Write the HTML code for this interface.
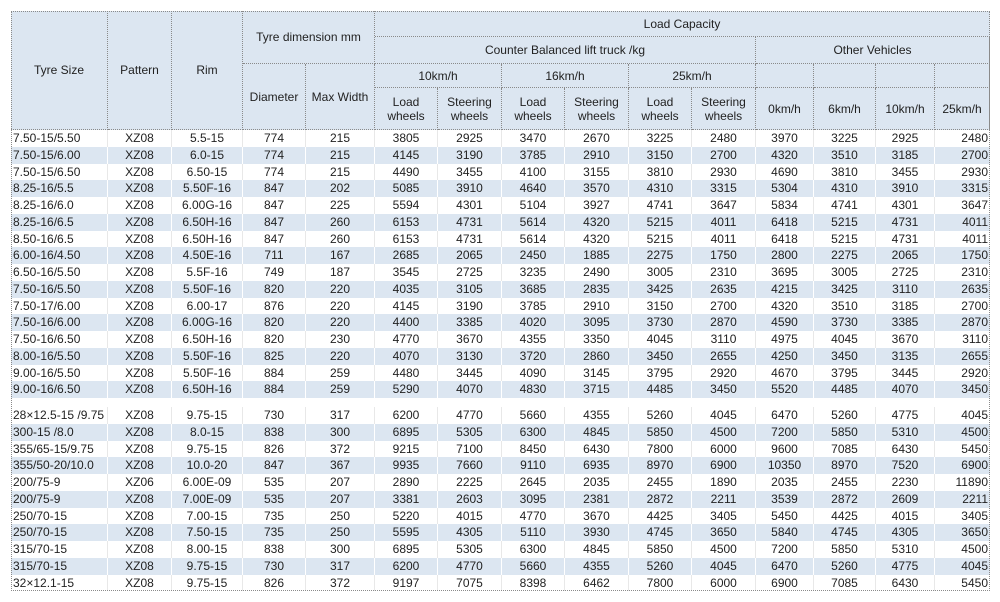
<!DOCTYPE html>
<html><head><meta charset="utf-8"><style>
body{margin:0;background:#fff;width:1000px;height:602px;overflow:hidden;font-family:"Liberation Sans",Arial,sans-serif;font-size:12px;color:#222;position:relative;}
.h{position:absolute;background:#dce6f1;border-right:1px dotted #8a8a8a;border-bottom:1px dotted #8a8a8a;box-sizing:border-box;display:flex;align-items:center;justify-content:center;text-align:center;line-height:14px;}
.frame{position:absolute;left:11px;top:11px;width:979px;height:580px;border:1px dotted #8a8a8a;box-sizing:border-box;pointer-events:none;}
.r{position:absolute;left:11px;width:979px;display:flex;height:16.75px;line-height:16.75px;}
.r.b{background:#dce6f1;}
.r span{display:block;text-align:center;border-right:1px solid #fff;box-sizing:border-box;overflow:hidden;white-space:nowrap;}
.r.w span{border-right-color:#e8e8e8;}
.r span:nth-child(1){width:97px;text-align:left;padding-left:2px}
.r span:nth-child(2){width:64px}.r span:nth-child(3){width:71px}.r span:nth-child(4){width:63px}
.r span:nth-child(5){width:69px}.r span:nth-child(6){width:63px}.r span:nth-child(7){width:64px}
.r span:nth-child(8){width:63px}.r span:nth-child(9){width:64px}.r span:nth-child(10){width:63px}
.r span:nth-child(11){width:64px}.r span:nth-child(12){width:58px}.r span:nth-child(13){width:62px}
.r span:nth-child(14){width:59px}.r span:nth-child(15){width:55px;text-align:right;padding-right:2px;border-right:none}
</style></head><body>
<div class="h" style="left:11px;top:11px;width:97px;height:119px">Tyre Size</div>
<div class="h" style="left:108px;top:11px;width:64px;height:119px">Pattern</div>
<div class="h" style="left:172px;top:11px;width:71px;height:119px">Rim</div>
<div class="h" style="left:243px;top:11px;width:132px;height:53px">Tyre dimension mm</div>
<div class="h" style="left:375px;top:11px;width:615px;height:26px">Load Capacity</div>
<div class="h" style="left:375px;top:37px;width:381px;height:27px">Counter Balanced lift truck /kg</div>
<div class="h" style="left:756px;top:37px;width:234px;height:27px">Other Vehicles</div>
<div class="h" style="left:243px;top:64px;width:63px;height:66px">Diameter</div>
<div class="h" style="left:306px;top:64px;width:69px;height:66px">Max Width</div>
<div class="h" style="left:375px;top:64px;width:127px;height:24px">10km/h</div>
<div class="h" style="left:502px;top:64px;width:127px;height:24px">16km/h</div>
<div class="h" style="left:629px;top:64px;width:127px;height:24px">25km/h</div>
<div class="h" style="left:756px;top:64px;width:58px;height:24px"></div>
<div class="h" style="left:814px;top:64px;width:62px;height:24px"></div>
<div class="h" style="left:876px;top:64px;width:59px;height:24px"></div>
<div class="h" style="left:935px;top:64px;width:55px;height:24px"></div>
<div class="h" style="left:375px;top:88px;width:63px;height:42px">Load<br>wheels</div>
<div class="h" style="left:438px;top:88px;width:64px;height:42px">Steering<br>wheels</div>
<div class="h" style="left:502px;top:88px;width:63px;height:42px">Load<br>wheels</div>
<div class="h" style="left:565px;top:88px;width:64px;height:42px">Steering<br>wheels</div>
<div class="h" style="left:629px;top:88px;width:63px;height:42px">Load<br>wheels</div>
<div class="h" style="left:692px;top:88px;width:64px;height:42px">Steering<br>wheels</div>
<div class="h" style="left:756px;top:88px;width:58px;height:42px">0km/h</div>
<div class="h" style="left:814px;top:88px;width:62px;height:42px">6km/h</div>
<div class="h" style="left:876px;top:88px;width:59px;height:42px">10km/h</div>
<div class="h" style="left:935px;top:88px;width:55px;height:42px">25km/h</div>

<div class="r w" style="top:130px"><span>7.50-15/5.50</span><span>XZ08</span><span>5.5-15</span><span>774</span><span>215</span><span>3805</span><span>2925</span><span>3470</span><span>2670</span><span>3225</span><span>2480</span><span>3970</span><span>3225</span><span>2925</span><span>2480</span></div>
<div class="r b" style="top:146.75px"><span>7.50-15/6.00</span><span>XZ08</span><span>6.0-15</span><span>774</span><span>215</span><span>4145</span><span>3190</span><span>3785</span><span>2910</span><span>3150</span><span>2700</span><span>4320</span><span>3510</span><span>3185</span><span>2700</span></div>
<div class="r w" style="top:163.5px"><span>7.50-15/6.50</span><span>XZ08</span><span>6.50-15</span><span>774</span><span>215</span><span>4490</span><span>3455</span><span>4100</span><span>3155</span><span>3810</span><span>2930</span><span>4690</span><span>3810</span><span>3455</span><span>2930</span></div>
<div class="r b" style="top:180.25px"><span>8.25-16/5.5</span><span>XZ08</span><span>5.50F-16</span><span>847</span><span>202</span><span>5085</span><span>3910</span><span>4640</span><span>3570</span><span>4310</span><span>3315</span><span>5304</span><span>4310</span><span>3910</span><span>3315</span></div>
<div class="r w" style="top:197px"><span>8.25-16/6.0</span><span>XZ08</span><span>6.00G-16</span><span>847</span><span>225</span><span>5594</span><span>4301</span><span>5104</span><span>3927</span><span>4741</span><span>3647</span><span>5834</span><span>4741</span><span>4301</span><span>3647</span></div>
<div class="r b" style="top:213.75px"><span>8.25-16/6.5</span><span>XZ08</span><span>6.50H-16</span><span>847</span><span>260</span><span>6153</span><span>4731</span><span>5614</span><span>4320</span><span>5215</span><span>4011</span><span>6418</span><span>5215</span><span>4731</span><span>4011</span></div>
<div class="r w" style="top:230.5px"><span>8.50-16/6.5</span><span>XZ08</span><span>6.50H-16</span><span>847</span><span>260</span><span>6153</span><span>4731</span><span>5614</span><span>4320</span><span>5215</span><span>4011</span><span>6418</span><span>5215</span><span>4731</span><span>4011</span></div>
<div class="r b" style="top:247.25px"><span>6.00-16/4.50</span><span>XZ08</span><span>4.50E-16</span><span>711</span><span>167</span><span>2685</span><span>2065</span><span>2450</span><span>1885</span><span>2275</span><span>1750</span><span>2800</span><span>2275</span><span>2065</span><span>1750</span></div>
<div class="r w" style="top:264px"><span>6.50-16/5.50</span><span>XZ08</span><span>5.5F-16</span><span>749</span><span>187</span><span>3545</span><span>2725</span><span>3235</span><span>2490</span><span>3005</span><span>2310</span><span>3695</span><span>3005</span><span>2725</span><span>2310</span></div>
<div class="r b" style="top:280.75px"><span>7.50-16/5.50</span><span>XZ08</span><span>5.50F-16</span><span>820</span><span>220</span><span>4035</span><span>3105</span><span>3685</span><span>2835</span><span>3425</span><span>2635</span><span>4215</span><span>3425</span><span>3110</span><span>2635</span></div>
<div class="r w" style="top:297.5px"><span>7.50-17/6.00</span><span>XZ08</span><span>6.00-17</span><span>876</span><span>220</span><span>4145</span><span>3190</span><span>3785</span><span>2910</span><span>3150</span><span>2700</span><span>4320</span><span>3510</span><span>3185</span><span>2700</span></div>
<div class="r b" style="top:314.25px"><span>7.50-16/6.00</span><span>XZ08</span><span>6.00G-16</span><span>820</span><span>220</span><span>4400</span><span>3385</span><span>4020</span><span>3095</span><span>3730</span><span>2870</span><span>4590</span><span>3730</span><span>3385</span><span>2870</span></div>
<div class="r w" style="top:331px"><span>7.50-16/6.50</span><span>XZ08</span><span>6.50H-16</span><span>820</span><span>230</span><span>4770</span><span>3670</span><span>4355</span><span>3350</span><span>4045</span><span>3110</span><span>4975</span><span>4045</span><span>3670</span><span>3110</span></div>
<div class="r b" style="top:347.75px"><span>8.00-16/5.50</span><span>XZ08</span><span>5.50F-16</span><span>825</span><span>220</span><span>4070</span><span>3130</span><span>3720</span><span>2860</span><span>3450</span><span>2655</span><span>4250</span><span>3450</span><span>3135</span><span>2655</span></div>
<div class="r w" style="top:364.5px"><span>9.00-16/5.50</span><span>XZ08</span><span>5.50F-16</span><span>884</span><span>259</span><span>4480</span><span>3445</span><span>4090</span><span>3145</span><span>3795</span><span>2920</span><span>4670</span><span>3795</span><span>3445</span><span>2920</span></div>
<div class="r b" style="top:381.25px"><span>9.00-16/6.50</span><span>XZ08</span><span>6.50H-16</span><span>884</span><span>259</span><span>5290</span><span>4070</span><span>4830</span><span>3715</span><span>4485</span><span>3450</span><span>5520</span><span>4485</span><span>4070</span><span>3450</span></div>

<div class="r w" style="top:407px"><span>28×12.5-15 /9.75</span><span>XZ08</span><span>9.75-15</span><span>730</span><span>317</span><span>6200</span><span>4770</span><span>5660</span><span>4355</span><span>5260</span><span>4045</span><span>6470</span><span>5260</span><span>4775</span><span>4045</span></div>
<div class="r b" style="top:423.75px"><span>300-15 /8.0</span><span>XZ08</span><span>8.0-15</span><span>838</span><span>300</span><span>6895</span><span>5305</span><span>6300</span><span>4845</span><span>5850</span><span>4500</span><span>7200</span><span>5850</span><span>5310</span><span>4500</span></div>
<div class="r w" style="top:440.5px"><span>355/65-15/9.75</span><span>XZ08</span><span>9.75-15</span><span>826</span><span>372</span><span>9215</span><span>7100</span><span>8450</span><span>6430</span><span>7800</span><span>6000</span><span>9600</span><span>7085</span><span>6430</span><span>5450</span></div>
<div class="r b" style="top:457.25px"><span>355/50-20/10.0</span><span>XZ08</span><span>10.0-20</span><span>847</span><span>367</span><span>9935</span><span>7660</span><span>9110</span><span>6935</span><span>8970</span><span>6900</span><span>10350</span><span>8970</span><span>7520</span><span>6900</span></div>
<div class="r w" style="top:474px"><span>200/75-9</span><span>XZ06</span><span>6.00E-09</span><span>535</span><span>207</span><span>2890</span><span>2225</span><span>2645</span><span>2035</span><span>2455</span><span>1890</span><span>2035</span><span>2455</span><span>2230</span><span>11890</span></div>
<div class="r b" style="top:490.75px"><span>200/75-9</span><span>XZ08</span><span>7.00E-09</span><span>535</span><span>207</span><span>3381</span><span>2603</span><span>3095</span><span>2381</span><span>2872</span><span>2211</span><span>3539</span><span>2872</span><span>2609</span><span>2211</span></div>
<div class="r w" style="top:507.5px"><span>250/70-15</span><span>XZ08</span><span>7.00-15</span><span>735</span><span>250</span><span>5220</span><span>4015</span><span>4770</span><span>3670</span><span>4425</span><span>3405</span><span>5450</span><span>4425</span><span>4015</span><span>3405</span></div>
<div class="r b" style="top:524.25px"><span>250/70-15</span><span>XZ08</span><span>7.50-15</span><span>735</span><span>250</span><span>5595</span><span>4305</span><span>5110</span><span>3930</span><span>4745</span><span>3650</span><span>5840</span><span>4745</span><span>4305</span><span>3650</span></div>
<div class="r w" style="top:541px"><span>315/70-15</span><span>XZ08</span><span>8.00-15</span><span>838</span><span>300</span><span>6895</span><span>5305</span><span>6300</span><span>4845</span><span>5850</span><span>4500</span><span>7200</span><span>5850</span><span>5310</span><span>4500</span></div>
<div class="r b" style="top:557.75px"><span>315/70-15</span><span>XZ08</span><span>9.75-15</span><span>730</span><span>317</span><span>6200</span><span>4770</span><span>5660</span><span>4355</span><span>5260</span><span>4045</span><span>6470</span><span>5260</span><span>4775</span><span>4045</span></div>
<div class="r w" style="top:574.5px"><span>32×12.1-15</span><span>XZ08</span><span>9.75-15</span><span>826</span><span>372</span><span>9197</span><span>7075</span><span>8398</span><span>6462</span><span>7800</span><span>6000</span><span>6900</span><span>7085</span><span>6430</span><span>5450</span></div>
<div class="frame"></div>
</body></html>
